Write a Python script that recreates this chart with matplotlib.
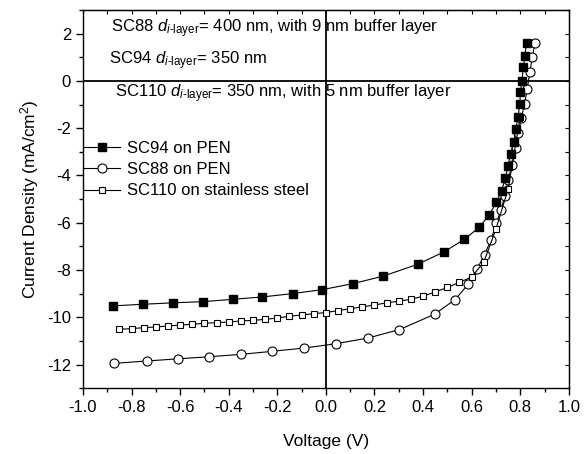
import matplotlib
matplotlib.use("Agg")
import matplotlib.pyplot as plt
from matplotlib.ticker import MultipleLocator

plt.rcParams["font.family"] = ["Liberation Sans", "DejaVu Sans"]
plt.rcParams["mathtext.fontset"] = "custom"
plt.rcParams["mathtext.rm"] = "Liberation Sans"
plt.rcParams["mathtext.it"] = "Liberation Sans:italic"
plt.rcParams["axes.unicode_minus"] = False

# SC94 on PEN (filled squares)
v_sc94 = [-0.878, -0.754, -0.630, -0.506, -0.383, -0.261, -0.137, -0.014, 0.110,
          0.236, 0.380, 0.487, 0.569, 0.631, 0.672, 0.702, 0.723, 0.739, 0.750,
          0.760, 0.774, 0.782, 0.791, 0.798, 0.801, 0.807, 0.813, 0.819, 0.826]
j_sc94 = [-9.52, -9.45, -9.39, -9.34, -9.24, -9.14, -9.00, -8.83, -8.58,
          -8.26, -7.75, -7.23, -6.71, -6.20, -5.67, -5.14, -4.65, -4.11, -3.59,
          -3.09, -2.60, -2.03, -1.54, -0.97, -0.48, 0.00, 0.58, 1.07, 1.59]

# SC88 on PEN (open circles)
v_sc88 = [-0.872, -0.738, -0.610, -0.480, -0.350, -0.220, -0.088, 0.041, 0.173,
          0.303, 0.448, 0.532, 0.586, 0.623, 0.653, 0.680, 0.702, 0.721, 0.737,
          0.750, 0.766, 0.781, 0.792, 0.805, 0.818, 0.829, 0.839, 0.850, 0.860]
j_sc88 = [-11.95, -11.85, -11.76, -11.67, -11.57, -11.44, -11.30, -11.12, -10.88,
          -10.52, -9.87, -9.25, -8.60, -7.95, -7.35, -6.72, -6.00, -5.45, -4.85,
          -4.20, -3.55, -2.85, -2.20, -1.55, -0.97, -0.34, 0.36, 1.00, 1.60]

# SC110 on stainless steel (open squares)
v_sc110 = [-0.85, -0.80, -0.75, -0.70, -0.65, -0.60, -0.55, -0.50, -0.45, -0.40,
           -0.35, -0.30, -0.25, -0.20, -0.15, -0.10, -0.05, 0.00, 0.05, 0.10,
           0.15, 0.20, 0.25, 0.30, 0.35, 0.40, 0.45, 0.50, 0.55, 0.60, 0.65,
           0.70, 0.75, 0.80]
j_sc110 = [-10.51, -10.48, -10.44, -10.41, -10.37, -10.33, -10.30, -10.25, -10.23, -10.20,
           -10.16, -10.13, -10.09, -10.03, -9.96, -9.90, -9.85, -9.80, -9.72, -9.64,
           -9.56, -9.48, -9.39, -9.32, -9.24, -9.11, -8.93, -8.74, -8.52, -8.30, -7.66,
           -6.27, -4.58, -1.54]

fig = plt.figure(figsize=(5.84, 4.54), dpi=100)
ax = fig.add_axes([0.142, 0.145, 0.832, 0.833])

ax.axhline(0, color="black", lw=1.3, zorder=1)
ax.axvline(0, color="black", lw=1.3, zorder=1)

ax.plot(v_sc94, j_sc94, "-s", color="black", lw=0.8, ms=6,
        mfc="black", mec="black", label="SC94 on PEN", zorder=3)
ax.plot(v_sc88, j_sc88, "-o", color="black", lw=0.8, ms=6.5,
        mfc="white", mec="black", mew=0.8, label="SC88 on PEN", zorder=2)
ax.plot(v_sc110, j_sc110, "-s", color="black", lw=0.8, ms=5,
        mfc="white", mec="black", mew=0.8, label="SC110 on stainless steel", zorder=2)

ax.set_xlim(-1.0, 1.0)
ax.set_ylim(-13, 3)
ax.xaxis.set_minor_locator(MultipleLocator(0.1))
ax.yaxis.set_major_locator(MultipleLocator(2))
ax.yaxis.set_minor_locator(MultipleLocator(1))
ax.set_xticks([i / 10 for i in range(-10, 11, 2)])
ax.set_xticklabels([f"{i / 10:.1f}" for i in range(-10, 11, 2)])
ax.tick_params(which="major", direction="out", length=5, width=1, labelsize=12)
ax.tick_params(which="minor", direction="out", length=3, width=1)

top = ax.secondary_xaxis("top")
top.xaxis.set_major_locator(MultipleLocator(0.1))
top.tick_params(direction="in", length=3, labeltop=False)
right = ax.secondary_yaxis("right")
right.yaxis.set_major_locator(MultipleLocator(1))
right.tick_params(direction="in", length=3, labelright=False)

for s in ax.spines.values():
    s.set_linewidth(1.0)

ax.set_xlabel("Voltage (V)", fontsize=12.5, labelpad=14)
ax.set_ylabel("Current Density (mA/cm$^2$)", fontsize=12.5)

ax.text(-0.885, 2.2, r"SC88 $d_{i\text{-layer}}$= 400 nm, with 9 nm buffer layer",
        fontsize=12, va="center", ha="left")
ax.text(-0.893, 0.86, r"SC94 $d_{i\text{-layer}}$= 350 nm",
        fontsize=12, va="center", ha="left")
ax.text(-0.869, -0.55, r"SC110 $d_{i\text{-layer}}$= 350 nm, with 5 nm buffer layer",
        fontsize=12, va="center", ha="left")

ax.legend(loc="upper left", bbox_to_anchor=(-0.012, 0.672), frameon=False,
          fontsize=12, handlelength=2.2, handletextpad=0.4, labelspacing=0.38,
          borderaxespad=0)

fig.savefig("out.png", dpi=100)
